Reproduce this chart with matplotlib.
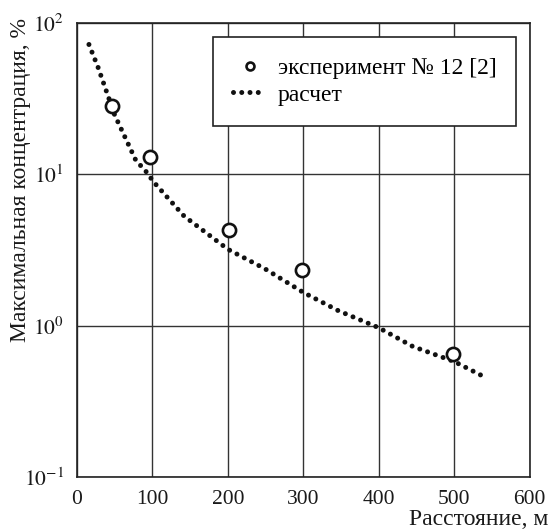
import matplotlib.pyplot as plt

plt.rcParams['font.family'] = ['Liberation Serif', 'DejaVu Serif']
plt.rcParams['mathtext.fontset'] = 'stix'

# experiment No 12 [2]
exp_x = [46, 97, 201, 298, 498]
exp_y = [28.4, 13.1, 4.26, 2.35, 0.648]

# calculation
calc_x = [16, 28, 50, 78, 95, 100, 142, 200, 249, 300, 346, 400, 445, 500, 536]
calc_y = [72, 51, 24.7, 12.4, 10, 9.1, 5.3, 3.2, 2.38, 1.66, 1.26, 0.97, 0.73, 0.58, 0.47]

x_ticks = [0, 100, 200, 300, 400, 500, 600]
y_ticks = [0.1, 1, 10, 100]
y_tick_labels = ['$10^{-1}$', '$10^{0}$', '$10^{1}$', '$10^{2}$']

fig = plt.figure(figsize=(5.49, 5.32), dpi=100)
ax = fig.add_axes([0.140, 0.103, 0.825, 0.854])

ax.plot(calc_x, calc_y, color='#111111', lw=3.6, linestyle=(0, (0.001, 1.65)),
        dash_capstyle='round', label='расчет', zorder=3)
ax.plot(exp_x, exp_y, 'o', ms=9.5, mfc='white', mec='#111111', mew=1.9,
        label='эксперимент № 12 [2]', zorder=4)

ax.set_yscale('log')
ax.set_xlim(0, 600)
ax.set_ylim(0.1, 100)
ax.set_xticks(x_ticks)
ax.set_xticklabels([str(t) for t in x_ticks])
ax.set_yticks(y_ticks)
ax.set_yticklabels(y_tick_labels)
ax.minorticks_off()
ax.tick_params(length=0, labelsize=15.5, pad=9, colors='#1a1a1a')
ax.tick_params(axis='y', pad=9)
ax.grid(True, color='#333333', lw=1.0)
ax.set_axisbelow(True)
for s in ax.spines.values():
    s.set_linewidth(1.2)
    s.set_color('#222222')

ax.set_ylabel('Максимальная концентрация, %', fontsize=17, color='#1a1a1a')
ax.yaxis.set_label_coords(-0.102, 0.654)
fig.text(0.999, 0.013, 'Расстояние, м', ha='right', va='baseline', fontsize=17, color='#1a1a1a')

handles, labels = ax.get_legend_handles_labels()
leg = ax.legend(handles[::-1], labels[::-1], loc='upper left',
                bbox_to_anchor=(0.301, 0.968, 0.668, 0.0), mode='expand',
                borderaxespad=0, fontsize=17, frameon=True, fancybox=False,
                edgecolor='#222222', borderpad=0.85, handlelength=1.4,
                handletextpad=0.5, labelspacing=0.22, markerscale=0.6)
leg.get_frame().set_linewidth(1.2)
leg.get_frame().set_alpha(1)

fig.savefig('out.png', dpi=100)
